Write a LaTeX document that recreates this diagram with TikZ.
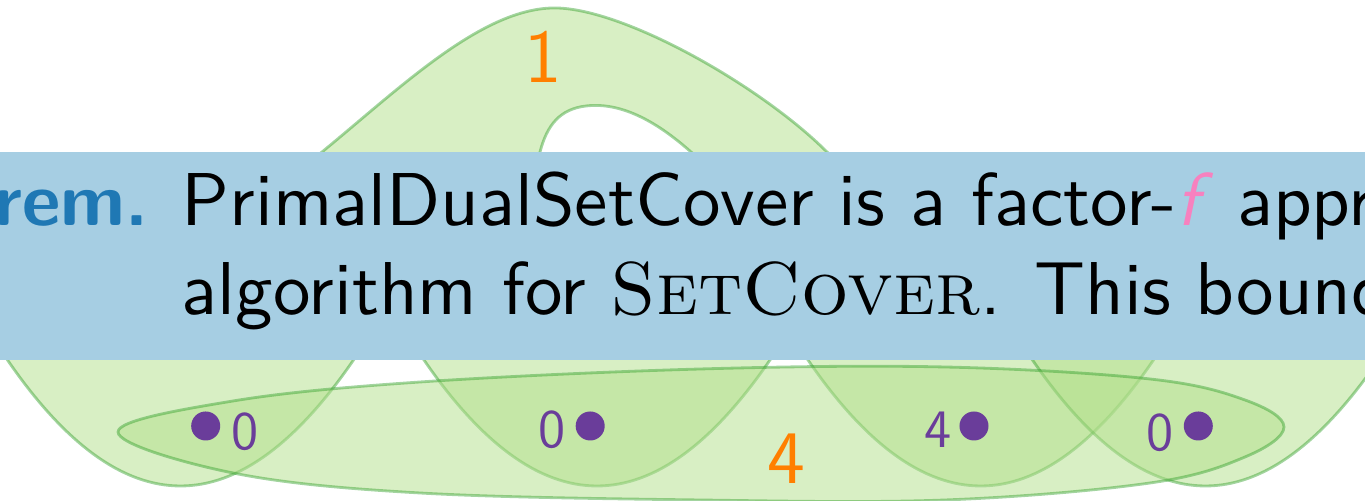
\documentclass[tikz,border=0pt]{standalone}
\usepackage{fontspec}
\setsansfont{lmsans10-regular.otf}[BoldFont=lmsans10-bold.otf, ItalicFont=lmsans10-oblique.otf]
\definecolor{bandblue}{HTML}{A6CEE3}
\definecolor{thmblue}{HTML}{1F78B4}
\definecolor{setfill}{HTML}{B2DF8A}
\definecolor{setline}{HTML}{33A02C}
\definecolor{elem}{HTML}{6A3D9A}
\definecolor{cost}{HTML}{FF7F00}
\definecolor{fpink}{HTML}{F781BF}
\begin{document}
\begin{tikzpicture}[x=0.01cm,y=-0.01cm,
  setshape/.style={fill=setfill, fill opacity=0.5, draw=setline, draw opacity=0.45, line width=0.8pt},
  elemdot/.style={circle, fill=elem, inner sep=0pt, minimum size=0.29cm},
  elemlabel/.style={text=elem, font=\sffamily\fontsize{15.4}{18}\selectfont, inner sep=0pt, anchor=base},
  costlabel/.style={text=cost, font=\sffamily\fontsize{21.5}{26}\selectfont, inner sep=0pt, anchor=base},
  textline/.style={font=\sffamily\fontsize{21.3}{25}\selectfont, inner sep=0pt, anchor=base west},
]
\useasboundingbox (0,0) rectangle (1365,501);
\clip (0,0) rectangle (1365,501);
% set of cost 1: arch joining two lobes
\path[setshape] (322,152) .. controls (400,88) and (480,10) .. (552,8)
 .. controls (620,6) and (760,85) .. (827,152)
 .. controls (900,225) and (1222,259) .. (1153.5,360)
 .. controls (1038.5,528) and (923,528) .. (808,360)
 .. controls (750,276) and (747,196) .. (691,152)
 .. controls (655,120) and (620,102) .. (586,106)
 .. controls (560,109) and (547,125) .. (540,152)
 .. controls (519,233) and (422.5,259) .. (353.5,360)
 .. controls (238.2,528) and (122.8,528) .. (7.5,360)
 .. controls (-61.5,259) and (228.4,228.8) .. (322,152) -- cycle;
% second arch (top hidden by the band)
\path[setshape] (1378.5,360) .. controls (1263.2,528) and (1147.8,528) .. (1032.5,360)
 .. controls (963.5,259) and (839,259) .. (770,360)
 .. controls (654.7,528) and (539.3,528) .. (424,360)
 .. controls (355,259) and (500,170) .. (800,170)
 .. controls (1300,170) and (1447.5,259) .. (1378.5,360) -- cycle;
% set of cost 4: long oval
\path[setshape] plot[smooth cycle, tension=0.6] coordinates {(118,432) (233,401) (420,382) (700,369) (945,367) (1150,379) (1245,400) (1284,427) (1245,457) (1150,483) (945,500) (700,500) (420,493) (233,473)};
\node[costlabel] (c1) at (543,82.7) {1};
\node[costlabel] (c4) at (786.5,483.3) {4};
% elements
\node[elemdot] (e1) at (205.7,426) {};
\node[elemlabel] (w1) at (245,449.5) {0};
\node[elemdot] (e2) at (590.2,426) {};
\node[elemlabel] (w2) at (552.5,447.8) {0};
\node[elemdot] (e3) at (974,426) {};
\node[elemlabel] (w3) at (938.5,447.8) {4};
\node[elemdot] (e4) at (1198.3,426) {};
\node[elemlabel] (w4) at (1160,451) {0};
% theorem band
\fill[bandblue] (0,152) rectangle (1365,360);
\node[textline, anchor=base east, text=thmblue] (thm) at (149,225.7) {\bfseries Theorem.};
\node[textline] (l1) at (181,225.7) {PrimalDualSetCover is a factor-{\color{fpink}\itshape f}\/\hspace{0.17em} approximation};
\node[textline] (l2) at (181,315) {algorithm for {\rmfamily\scshape SetCover}. This bound};
\end{tikzpicture}
\end{document}
